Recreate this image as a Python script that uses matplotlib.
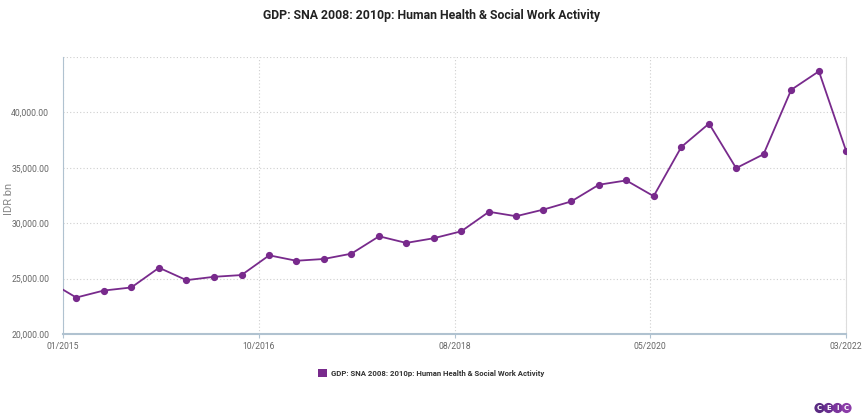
import numpy as np
import pandas as pd
import matplotlib
matplotlib.use('Agg')
import matplotlib.pyplot as plt
from matplotlib.ticker import FuncFormatter

# quarterly values, IDR bn (first one sits left of the visible axis)
values = [24740,
          23290, 23920, 24200, 25980,
          24860, 25160, 25320, 27100,
          26610, 26770, 27250, 28820,
          28220, 28640, 29270, 31030,
          30630, 31230, 31960, 33470,
          33860, 32440, 36880, 38990,
          34970, 36220, 42040, 43710,
          36550]
dates = pd.date_range('2014-12-31', periods=len(values), freq='QE')
x_labels = ['01/2015', '10/2016', '08/2018', '05/2020', '03/2022']
y_ticks = [20000, 25000, 30000, 35000, 40000, 45000]

title = 'GDP: SNA 2008: 2010p: Human Health & Social Work Activity'
purple = '#782a8c'
fam = ['Roboto', 'DejaVu Sans']

fig = plt.figure(figsize=(8.63, 4.17), dpi=100)
ax = fig.add_axes([63 / 863, 1 - 334 / 417, 783 / 863, 277 / 417])

ax.plot(dates, values, color=purple, lw=1.3, marker='o', ms=4.2, zorder=3)

x0 = pd.Timestamp('2015-02-15')
x1 = pd.Timestamp('2022-03-31')
ax.set_xlim(x0, x1)
ax.set_ylim(20000, 45000)

xt = pd.to_datetime(np.linspace(x0.value, x1.value, len(x_labels)))
ax.set_xticks(xt)
ax.set_xticklabels(x_labels, fontfamily=fam, fontsize=6.2, color='#666666')
ax.set_yticks(y_ticks)
ax.yaxis.set_major_formatter(FuncFormatter(
    lambda v, p: '' if v >= 45000 else f'{v:,.2f}'))
for lab in ax.get_yticklabels():
    lab.set_fontfamily(fam)
    lab.set_fontsize(6.2)
    lab.set_color('#666666')

ax.tick_params(axis='y', length=0, pad=10)
ax.tick_params(axis='x', length=3, color='#b0c2d0', pad=3)
ax.grid(True, linestyle=(0, (1, 2)), color='#cfcfcf', lw=0.8)
ax.set_axisbelow(True)

ax.spines['top'].set_visible(False)
ax.spines['left'].set_color('#b0c2d0')
ax.spines['bottom'].set_color('#b0c2d0')
ax.spines['bottom'].set_linewidth(1.5)
ax.spines['right'].set_color('#dddddd')

ax.set_ylabel('IDR bn', fontsize=8, color='#888888', fontfamily=fam)
ax.yaxis.set_label_coords((14 - 63) / 783, (334 - 199) / 277)

fig.text(0.5, 1 - 16 / 417, title, ha='center', va='center',
         fontsize=8.8, fontweight='bold', color='#222222', fontfamily=fam)

# legend
leg = ax.legend([plt.Rectangle((0, 0), 1, 1, fc=purple, ec='none')], [title],
                loc='center', bbox_to_anchor=(431 / 863, 1 - 373 / 417),
                bbox_transform=fig.transFigure, frameon=False,
                prop={'family': fam, 'size': 5.6, 'weight': 'bold'},
                handlelength=1.1, handleheight=1.3, handletextpad=0.5)
for t in leg.get_texts():
    t.set_color('#333333')

# logo
for i, (ch, c) in enumerate(zip('CEIC', ['#5a2a82', '#6a2f90', '#7b359c', '#8b3ca8'])):
    fig.text((819.5 + i * 9) / 863, 1 - 408 / 417, ch, ha='center', va='center',
             fontsize=5, fontweight='bold', color='white',
             fontfamily=['DejaVu Sans'],
             bbox=dict(boxstyle='circle,pad=0.3', fc=c, ec='none'))

fig.savefig('out.png', dpi=100)
